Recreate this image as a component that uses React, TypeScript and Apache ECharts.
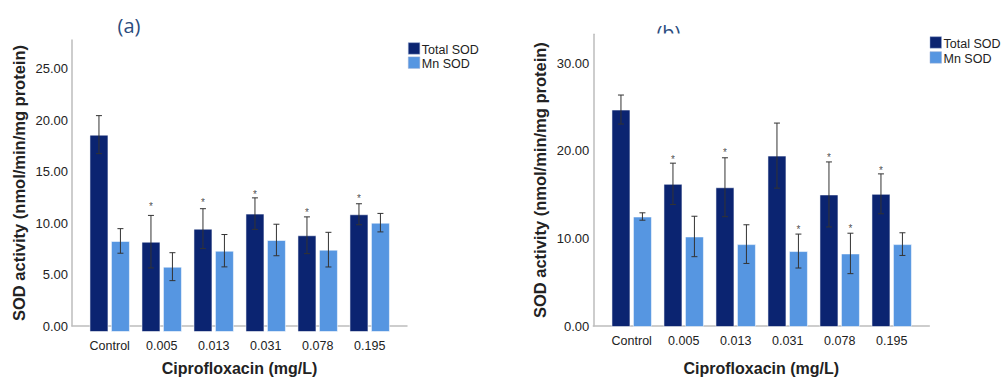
import React, { useEffect, useRef } from "react";
import * as echarts from "echarts";

// ---------- data ----------
const categories = ["Control", "0.005", "0.013", "0.031", "0.078", "0.195"];
const seriesNames = ["Total SOD", "Mn SOD"];

// panel (a)
const totalA = [18.79, 8.6, 9.84, 11.27, 9.21, 11.21];
const totalAErr = [1.81, 2.5, 1.9, 1.5, 1.75, 1.0];
const mnA = [8.67, 6.22, 7.74, 8.76, 7.84, 10.41];
const mnAErr = [1.17, 1.33, 1.54, 1.5, 1.65, 0.88];
const starTotalA = [0, 12.1, 12.48, 13.27, 11.52, 12.89];
const starMnA = [0, 0, 0, 0, 0, 0];
const maxA = 27.8;

// panel (b)
const totalB = [24.74, 16.29, 15.9, 19.5, 15.08, 15.15];
const totalBErr = [1.65, 2.35, 3.35, 3.7, 3.7, 2.27];
const mnB = [12.57, 10.3, 9.43, 8.64, 8.37, 9.43];
const mnBErr = [0.42, 2.3, 2.2, 1.93, 2.3, 1.29];
const starTotalB = [0, 19.28, 20.08, 0, 19.51, 18.07];
const starMnB = [0, 0, 0, 11.28, 11.44, 0];
const maxB = 33.3;

const yInterval = [5, 10];
const panelTitles = ["(a)", "(b)"];
const xTitle = "Ciprofloxacin (mg/L)";
const yTitle = "SOD activity (nmol/min/mg protein)";

// ---------- styles ----------
const FONT = "'Liberation Sans', Arial, sans-serif";
const DARK = "#0b2471";
const LIGHT = "#5696e1";
const COLORS = [DARK, LIGHT];
const TXT = "#222";
const AXIS = "#bdbdbd";
const BAR_W = 19;
const GAP = 0.13;
const OFF = (BAR_W + BAR_W * GAP) / 2;

function errData(vals: number[], errs: number[], stars: number[], side: number) {
  return vals.map((v, i) => [i, v, errs[i], side, stars[i]]);
}

const renderErr = (params: any, api: any) => {
  const ci = api.value(0);
  const v = api.value(1);
  const e = api.value(2);
  const side = api.value(3);
  const s = api.value(4);
  const hi = api.coord([ci, v + e]);
  const lo = api.coord([ci, v - e]);
  const x = hi[0] + side * OFF;
  const st = { stroke: "#333", lineWidth: 1 };
  const children: any[] = [
    { type: "line", shape: { x1: x, y1: hi[1], x2: x, y2: lo[1] }, style: st },
    { type: "line", shape: { x1: x - 3, y1: hi[1], x2: x + 3, y2: hi[1] }, style: st },
    { type: "line", shape: { x1: x - 3, y1: lo[1], x2: x + 3, y2: lo[1] }, style: st },
  ];
  if (s > 0) {
    const p = api.coord([ci, s]);
    children.push({
      type: "text",
      style: {
        text: "*",
        x,
        y: p[1] + 2,
        align: "center",
        verticalAlign: "middle",
        fontSize: 10,
        fill: "#444",
        opacity: 0.95,
        fontFamily: FONT,
      },
    });
  }
  return { type: "group", children };
};

function frameAxes(gi: number, max: number, interval: number) {
  const x = {
    gridIndex: gi,
    type: "value",
    min: 0,
    max: 1,
    axisLine: { show: true, lineStyle: { color: AXIS, width: 1.5 } },
    axisTick: { show: false },
    axisLabel: { show: false },
    splitLine: { show: false },
    name: xTitle,
    nameLocation: "middle",
    nameGap: 34,
    nameTextStyle: { fontSize: 16, fontWeight: "bold", color: TXT, fontFamily: FONT },
  };
  const y = {
    gridIndex: gi,
    type: "value",
    min: 0,
    max,
    interval,
    axisLine: { show: true, lineStyle: { color: AXIS, width: 1.5 } },
    axisTick: { show: false },
    axisLabel: {
      showMaxLabel: false,
      margin: 4,
      fontSize: 13,
      color: TXT,
      fontFamily: FONT,
      formatter: (v: number) => v.toFixed(2),
    },
    splitLine: { show: false },
    name: yTitle,
    nameLocation: "middle",
    nameGap: 45,
    nameTextStyle: { fontSize: 16.5, fontWeight: "bold", color: TXT, fontFamily: FONT },
  };
  return { x, y };
}

function dataAxes(gi: number, max: number) {
  const x = {
    gridIndex: gi,
    type: "category",
    data: categories,
    axisLine: { show: false },
    axisTick: { show: false },
    axisLabel: { interval: 0, margin: 7, fontSize: 12.5, color: TXT, fontFamily: FONT },
    splitLine: { show: false },
  };
  const y = {
    gridIndex: gi,
    type: "value",
    min: 0,
    max,
    show: false,
    splitLine: { show: false },
  };
  return { x, y };
}

function barSeries(name: string, axis: number, data: number[], color: string) {
  return {
    name,
    type: "bar",
    xAxisIndex: axis,
    yAxisIndex: axis,
    data,
    barWidth: BAR_W,
    barGap: GAP * 100 + "%",
    itemStyle: { color, borderColor: "rgba(255,255,255,0.55)", borderWidth: 1 },
  };
}

function errSeries(axis: number, data: any[]) {
  return {
    type: "custom",
    xAxisIndex: axis,
    yAxisIndex: axis,
    renderItem: renderErr,
    itemStyle: { color: "#444" },
    data,
    z: 5,
  };
}

function legendGraphic(lx: number, ly: number, step: number) {
  const out: any[] = [];
  seriesNames.forEach((n, i) => {
    out.push({
      type: "rect",
      z: 20,
      shape: { x: lx, y: ly + i * step, width: 11.5, height: 11.5 },
      style: { fill: COLORS[i], stroke: "rgba(150,170,210,0.6)", lineWidth: 0.8 },
    });
    out.push({
      type: "text",
      z: 20,
      style: {
        text: n,
        x: lx + 13.5,
        y: ly + i * step + 6.8,
        verticalAlign: "middle",
        align: "left",
        fontSize: 12.5,
        fill: TXT,
        fontFamily: FONT,
      },
    });
  });
  return out;
}

export default function App() {
  const ref = useRef<HTMLDivElement>(null);
  useEffect(() => {
    if (!ref.current) return;
    const chart = echarts.init(ref.current, undefined, { renderer: "svg" });
    const fa = frameAxes(0, maxA, yInterval[0]);
    const da = dataAxes(1, maxA);
    const fb = frameAxes(2, maxB, yInterval[1]);
    const db = dataAxes(3, maxB);
    chart.setOption({
      animation: false,
      backgroundColor: "#fff",
      grid: [
        { left: 72, top: 40, width: 335, height: 292 },
        { left: 83.7, top: 40, width: 312, height: 292 },
        { left: 593.3, top: 34.3, width: 336, height: 292.7 },
        { left: 605.7, top: 34.3, width: 312, height: 292.7 },
      ],
      xAxis: [fa.x, da.x, fb.x, db.x],
      yAxis: [fa.y, da.y, fb.y, db.y],
      graphic: [
        {
          type: "text",
          z: 10,
          style: { text: panelTitles[0], x: 129, y: 25, align: "center", verticalAlign: "middle", fontSize: 20, fill: "#2b4c7e", fontFamily: "'Open Sans', sans-serif" },
        },
        {
          type: "text",
          z: 10,
          style: { text: panelTitles[1], x: 668.5, y: 32, align: "center", verticalAlign: "middle", fontSize: 20, fill: "#2b4c7e", fontFamily: "'Open Sans', sans-serif" },
        },
        {
          type: "rect",
          z: 11,
          shape: { x: 645, y: 33.5, width: 50, height: 14 },
          style: { fill: "#fff" },
        },
        ...legendGraphic(408.3, 42.7, 14.2),
        ...legendGraphic(930, 36.7, 15),
      ],
      series: [
        barSeries(seriesNames[0], 1, totalA, DARK),
        barSeries(seriesNames[1], 1, mnA, LIGHT),
        errSeries(1, [...errData(totalA, totalAErr, starTotalA, -1), ...errData(mnA, mnAErr, starMnA, 1)]),
        barSeries(seriesNames[0], 3, totalB, DARK),
        barSeries(seriesNames[1], 3, mnB, LIGHT),
        errSeries(3, [...errData(totalB, totalBErr, starTotalB, -1), ...errData(mnB, mnBErr, starMnB, 1)]),
      ],
    });
    return () => chart.dispose();
  }, []);
  return (
    <div
      ref={ref}
      style={{ position: "fixed", left: 0, top: 0, width: 1005, height: 381, background: "#fff" }}
    />
  );
}
